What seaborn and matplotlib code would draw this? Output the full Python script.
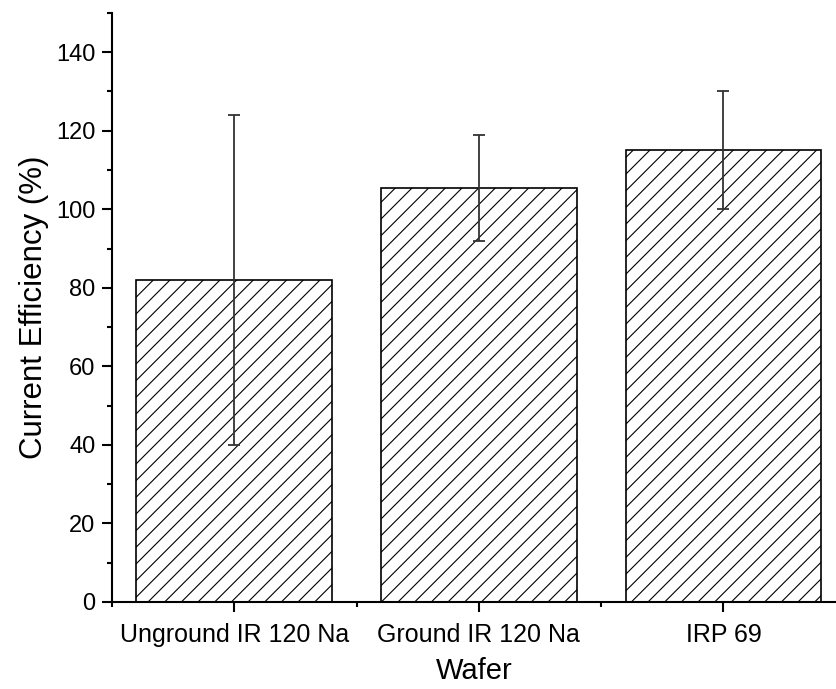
import matplotlib
matplotlib.use("Agg")
import matplotlib.pyplot as plt
import seaborn as sns
import pandas as pd
import numpy as np
from matplotlib.ticker import MultipleLocator, FixedLocator

categories = ["Unground IR 120 Na", "Ground IR 120 Na", "IRP 69"]
values = [82.0, 105.5, 115.0]
errors = [42.0, 13.5, 15.0]
yticks = [0, 20, 40, 60, 80, 100, 120, 140]

sns.set_theme(style="ticks")
plt.rcParams['font.family'] = ['Liberation Sans', 'DejaVu Sans']
plt.rcParams['hatch.linewidth'] = 0.8
plt.rcParams['text.color'] = 'black'
plt.rcParams['axes.labelcolor'] = 'black'
plt.rcParams['xtick.color'] = 'black'
plt.rcParams['ytick.color'] = 'black'

df = pd.DataFrame({"Wafer": categories, "CE": values})

fig = plt.figure(figsize=(8.36, 6.89), dpi=100)
ax = fig.add_axes([0.134, 0.1263, 0.866, 0.855])

sns.barplot(data=df, x="Wafer", y="CE", ax=ax, color="white", width=0.8,
            edgecolor="black", linewidth=1.2, errorbar=None, saturation=1)
for p in ax.patches:
    p.set_hatch("//")
    p.set_facecolor("white")
    p.set_edgecolor("black")

ax.errorbar(x=np.arange(len(categories)), y=values, yerr=errors, fmt="none",
            ecolor="#333333", elinewidth=1.3, capsize=4.3, capthick=1.3, zorder=5)

ax.set_ylim(0, 150)
ax.set_xlim(-0.5, 2.46)
ax.yaxis.set_major_locator(FixedLocator(yticks))
ax.yaxis.set_minor_locator(MultipleLocator(10))
ax.xaxis.set_minor_locator(FixedLocator([-0.5, 0.5, 1.5]))

sns.despine(ax=ax)
for s in ["left", "bottom"]:
    ax.spines[s].set_linewidth(1.5)
    ax.spines[s].set_color("black")

ax.tick_params(axis="both", which="major", direction="out", length=7, width=1.5,
               labelsize=17, color="black", labelcolor="black", pad=5)
ax.tick_params(axis="both", which="minor", direction="out", length=3.5, width=1.5,
               color="black")
ax.tick_params(axis="x", which="major", labelsize=18, pad=8)

ax.set_xlabel("Wafer", fontsize=21, labelpad=7, color="black")
ax.set_ylabel("Current Efficiency (%)", fontsize=22.5, labelpad=5, color="black")

fig.savefig("out.png", dpi=100, facecolor="white")
